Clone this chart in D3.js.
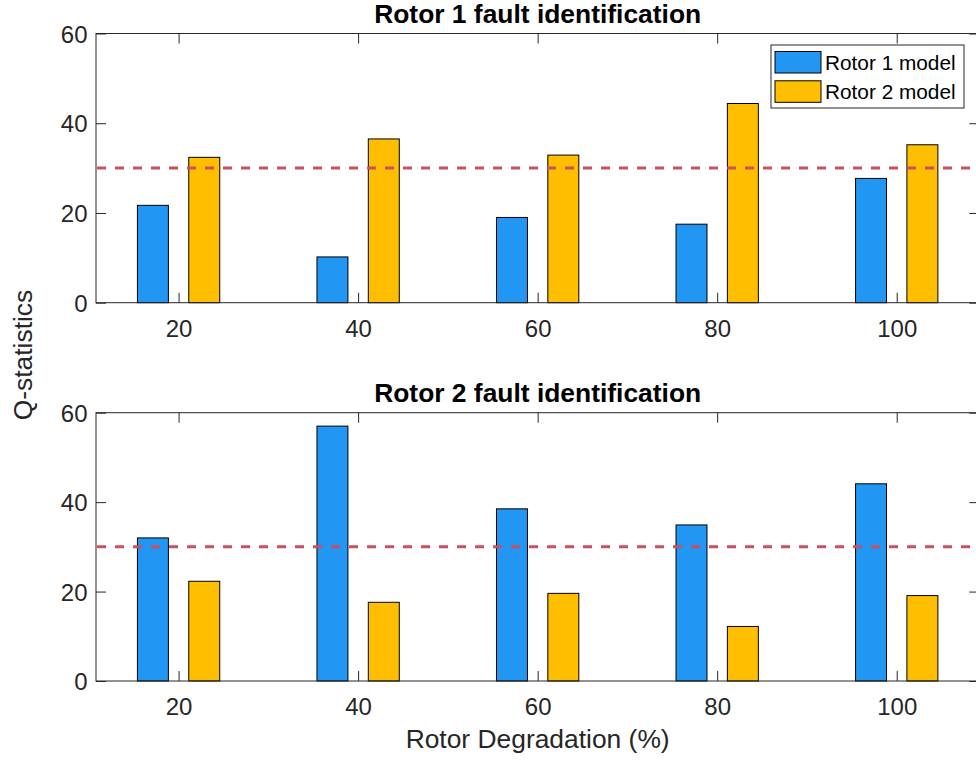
<!DOCTYPE html>
<html>
<head>
<meta charset="utf-8">
<script src="https://cdn.jsdelivr.net/npm/d3@7"></script>
<style>
  html, body { margin: 0; padding: 0; background: #fff; }
  svg { display: block; font-family: "Liberation Sans", Arial, Helvetica, sans-serif; }
</style>
</head>
<body>
<svg id="chart" width="976" height="761"></svg>
<script>
// Degradation levels (%)
const degradation = [20, 40, 60, 80, 100];
const seriesNames = ["Rotor 1 model", "Rotor 2 model"];

// Q-statistics, Rotor 1 fault case
const rotor1Fault_model1 = [21.7, 10.2, 19.0, 17.5, 27.7];
const rotor1Fault_model2 = [32.4, 36.5, 32.9, 44.4, 35.2];

// Q-statistics, Rotor 2 fault case
const rotor2Fault_model1 = [32.0, 57.0, 38.5, 34.9, 44.1];
const rotor2Fault_model2 = [22.3, 17.6, 19.6, 12.2, 19.1];

// Detection threshold
const threshold = 30;

const yTicks = [0, 20, 40, 60];
const xTicks = [20, 40, 60, 80, 100];

const colors = ["#2196F2", "#FFBF00"];
const axisColor = "#262626";

const svg = d3.select("#chart");

const left = 96, right = 979.3;
const x = d3.scaleLinear().domain([10.8, 109.2]).range([left, right]);
// grouped bar layout (data units)
const barOffset = 2.86, barWidth = 3.45;

const panels = [
  { title: "Rotor 1 fault identification", top: 33.5, bottom: 302.7,
    series: [rotor1Fault_model1, rotor1Fault_model2], legend: true },
  { title: "Rotor 2 fault identification", top: 412.7, bottom: 681,
    series: [rotor2Fault_model1, rotor2Fault_model2], legend: false }
];

const tickLen = 10;

panels.forEach(p => {
  const y = d3.scaleLinear().domain([0, 60]).range([p.bottom, p.top]);
  const g = svg.append("g");

  // bars
  p.series.forEach((vals, si) => {
    const off = si === 0 ? -barOffset : barOffset;
    g.selectAll(null).data(degradation.map((d, i) => ({ d, v: vals[i] })))
      .enter().append("rect")
      .attr("x", d => x(d.d + off - barWidth / 2))
      .attr("width", d => x(d.d + off + barWidth / 2) - x(d.d + off - barWidth / 2))
      .attr("y", d => y(d.v))
      .attr("height", d => y(0) - y(d.v))
      .attr("fill", colors[si])
      .attr("stroke", "#000")
      .attr("stroke-width", 1);
  });

  // threshold line
  g.append("line")
    .attr("x1", left).attr("x2", right)
    .attr("y1", y(threshold)).attr("y2", y(threshold))
    .attr("stroke", "#C9505C")
    .attr("stroke-width", 3)
    .attr("stroke-dasharray", "9,9")
    .attr("stroke-dashoffset", -1);

  // axes box
  const box = g.append("g").attr("stroke", axisColor).attr("stroke-width", 1).attr("fill", "none");
  box.append("rect").attr("x", left).attr("y", p.top)
    .attr("width", right - left).attr("height", p.bottom - p.top);

  // bottom axis with inward ticks
  const xAxis = d3.axisBottom(x).tickValues(xTicks).tickSizeInner(-tickLen).tickSizeOuter(0).tickPadding(0).tickFormat(d3.format("d"));
  const xa = g.append("g").attr("transform", `translate(0,${p.bottom})`).call(xAxis);
  xa.select(".domain").remove();
  xa.selectAll(".tick line").attr("stroke", axisColor);
  xa.selectAll(".tick text")
    .attr("y", 25.5).attr("dy", null)
    .attr("dominant-baseline", "central")
    .attr("fill", axisColor).attr("font-size", 24).attr("font-family", null);

  // top ticks
  const xTop = d3.axisTop(x).tickValues(xTicks).tickSizeInner(-tickLen).tickSizeOuter(0).tickFormat("");
  const xt = g.append("g").attr("transform", `translate(0,${p.top})`).call(xTop);
  xt.select(".domain").remove();
  xt.selectAll(".tick line").attr("stroke", axisColor);

  // left axis with inward ticks
  const yAxis = d3.axisLeft(y).tickValues(yTicks).tickSizeInner(-tickLen).tickSizeOuter(0).tickPadding(0);
  const ya = g.append("g").attr("transform", `translate(${left},0)`).call(yAxis);
  ya.select(".domain").remove();
  ya.selectAll(".tick line").attr("stroke", axisColor);
  ya.selectAll(".tick text")
    .attr("x", -8.5).attr("dy", null)
    .attr("dominant-baseline", "central")
    .attr("fill", axisColor).attr("font-size", 24).attr("font-family", null);

  // right ticks
  const yRight = d3.axisRight(y).tickValues(yTicks).tickSizeInner(-tickLen).tickSizeOuter(0).tickFormat("");
  const yr = g.append("g").attr("transform", `translate(${right},0)`).call(yRight);
  yr.select(".domain").remove();
  yr.selectAll(".tick line").attr("stroke", axisColor);

  // title
  g.append("text")
    .attr("x", x(60)).attr("y", p.top - 10.5)
    .attr("text-anchor", "middle")
    .attr("font-weight", "bold").attr("font-size", 26.4)
    .attr("fill", "#000")
    .text(p.title);

  // legend
  if (p.legend) {
    const lg = g.append("g");
    lg.append("rect").attr("x", 771).attr("y", 45).attr("width", 193).attr("height", 63)
      .attr("fill", "#fff").attr("stroke", axisColor).attr("stroke-width", 1);
    seriesNames.forEach((name, i) => {
      const yy = 51.5 + i * 29.3;
      lg.append("rect").attr("x", 775).attr("y", yy).attr("width", 46).attr("height", 21.5)
        .attr("fill", colors[i]).attr("stroke", "#000").attr("stroke-width", 1);
      lg.append("text").attr("x", 825).attr("y", yy + 11).attr("dominant-baseline", "central")
        .attr("font-size", 20.8).attr("fill", "#000").text(name);
    });
  }
});

// axis labels
svg.append("text")
  .attr("x", x(60)).attr("y", 748)
  .attr("text-anchor", "middle")
  .attr("font-size", 26.4).attr("fill", axisColor)
  .text("Rotor Degradation (%)");

svg.append("text")
  .attr("transform", "translate(22.5,355) rotate(-90)")
  .attr("text-anchor", "middle")
  .attr("dominant-baseline", "central")
  .attr("font-size", 26.4).attr("fill", axisColor)
  .text("Q-statistics");
</script>
</body>
</html>
